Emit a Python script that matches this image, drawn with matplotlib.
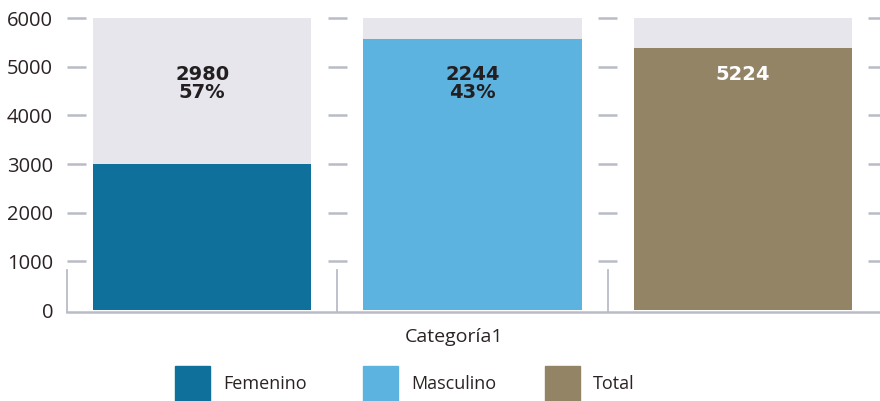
import numpy as np
import matplotlib
matplotlib.use('Agg')
from matplotlib import pyplot as plt
from matplotlib.patches import Rectangle

# ---DATA--- #
series = ['Femenino', 'Masculino', 'Total']
bar_values = [2990, 5570, 5380]          # bar heights as drawn
label_counts = [2980, 2244, 5224]
label_pcts = ['57%', '43%', None]
colors = ['#0f719b', '#5db3e0', '#948466']
yticks = [0, 1000, 2000, 3000, 4000, 5000, 6000]
category = 'Categoría1'
ymax = 6000

plt.rcParams['font.family'] = ['Open Sans', 'DejaVu Sans']
axis_grey = '#b9bcc7'
text_col = '#2b2323'

fig = plt.figure(figsize=(8.8, 4.01), dpi=100)
ax = fig.add_axes([67 / 880, 91 / 401, 813 / 880, 292 / 401])
ax.set_xlim(0, 813 / 270.3)
ax.set_ylim(0, ymax)

x = np.arange(len(series)) + 0.5
width = 0.807

# background bars and value bars
ax.bar(x, [ymax] * len(series), width=width, color='#e8e6ed', zorder=1)
ax.bar(x, bar_values, width=width, color=colors, zorder=2)

# data labels
for xi, cnt, pct in zip(x, label_counts, label_pcts):
    if pct is None:
        ax.text(xi, 4830, str(cnt), ha='center', va='center', color='white',
                fontsize=14, fontweight='bold', family='DejaVu Sans', zorder=3)
    else:
        ax.text(xi, 4660, f'{cnt}\n{pct}', ha='center', va='center', color='#231f20',
                fontsize=14, fontweight='bold', family='DejaVu Sans',
                linespacing=0.95, zorder=3)

# short tick dashes in the gaps between bars
for yt in yticks[1:]:
    for xc in [0.035, 1.0, 2.0, 3.0]:
        ax.plot([xc - 0.036, xc + 0.036], [yt, yt], color=axis_grey, lw=1.8,
                solid_capstyle='butt', clip_on=False, zorder=0)

# category separators on the x axis
for xs in [0, 1, 2]:
    ax.plot([xs, xs], [-40, 820], color=axis_grey, lw=1.3, clip_on=False, zorder=0)

ax.axhline(-40, color=axis_grey, lw=1.8, clip_on=False, zorder=0)

for s in ax.spines.values():
    s.set_visible(False)
ax.set_xticks([])
ax.set_yticks(yticks)
ax.set_yticklabels([str(v) for v in yticks], fontsize=14.5, color=text_col)
ax.tick_params(axis='y', length=0, pad=10)

ax.text(1.43, -560, category, ha='center', va='center', fontsize=14, color=text_col)

# legend
leg_x = [175, 363, 545]
for lx, name, c in zip(leg_x, series, colors):
    fig.patches.append(Rectangle((lx / 880, 0), 35 / 880, 35 / 401,
                                 transform=fig.transFigure, color=c))
    fig.text((lx + 48) / 880, (401 - 384) / 401, name, ha='left', va='center',
             fontsize=13, color=text_col)

fig.savefig('out.png', dpi=100)
